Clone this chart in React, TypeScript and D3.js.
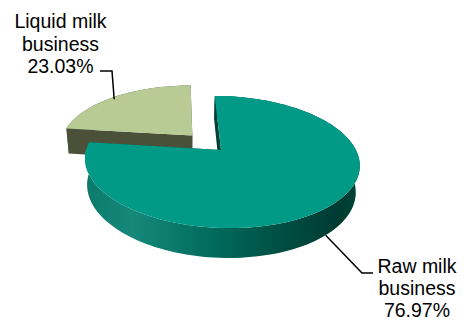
import React from "react";
import * as d3 from "d3";

const categories = ["Raw milk business", "Liquid milk business"];
const values = [76.97, 23.03];
const labelLines = [
  ["Raw milk", "business", "76.97%"],
  ["Liquid milk", "business", "23.03%"],
];
const topColors = ["#009a86", "#b9cb95"];
const sideColors = ["#005a4c", "#4b5139"];
const explode = [0, 0.315];

const W = 466;
const H = 323;
// 3D camera parameters
const F = 653;
const DIST = 4.84;
const SIN_A = 0.4737;
const COS_A = Math.sqrt(1 - SIN_A * SIN_A);
const THICK = 0.2256;
const XCAM = -0.3;
const CX = 221;
const CY = 150;
const OX = CX - (F * -XCAM) / DIST;
const OY = CY;

function proj(X: number, Z: number, Y: number): [number, number] {
  const xc = X - XCAM;
  const yc = Y * COS_A + Z * SIN_A;
  const zc = DIST + Z * COS_A - Y * SIN_A;
  return [OX + (F * xc) / zc, OY - (F * yc) / zc];
}

const closed = d3.line<[number, number]>().curve(d3.curveLinearClosed);

function arcPts(a0: number, a1: number, ox: number, oz: number, Y: number) {
  const n = Math.max(2, Math.ceil((Math.abs(a1 - a0) / (2 * Math.PI)) * 180));
  const pts: [number, number][] = [];
  for (let i = 0; i <= n; i++) {
    const a = a0 + ((a1 - a0) * i) / n;
    pts.push(proj(ox + Math.sin(a), oz + Math.cos(a), Y));
  }
  return pts;
}

export default function App() {
  const pie = d3.pie<number>().sort(null).startAngle(0).endAngle(2 * Math.PI);
  const arcs = pie(values);

  const slices = arcs.map((a, i) => {
    const mid = (a.startAngle + a.endAngle) / 2;
    const ox = explode[i] * Math.sin(mid);
    const oz = explode[i] * Math.cos(mid);
    const topArc = arcPts(a.startAngle, a.endAngle, ox, oz, 0);
    const botArc = arcPts(a.startAngle, a.endAngle, ox, oz, -THICK);
    const cTop = proj(ox, oz, 0);
    const cBot = proj(ox, oz, -THICK);
    const top = closed([cTop, ...topArc]);
    const side = closed([...topArc, ...botArc.slice().reverse()]);
    const r0 = closed([cTop, topArc[0], botArc[0], cBot]);
    const r1 = closed([cTop, topArc[topArc.length - 1], botArc[botArc.length - 1], cBot]);
    return { i, top, side, r0, r1, ox, oz, a };
  });

  // leader anchors
  const rawA = arcs[0];
  const rawAng = rawA.startAngle + (rawA.endAngle - rawA.startAngle) * 0.503;
  const rawP = proj(Math.sin(rawAng), Math.cos(rawAng), -THICK);
  const liq = slices[1];
  const liqAng = liq.a.startAngle + (liq.a.endAngle - liq.a.startAngle) * 0.47;
  const liqP = proj(liq.ox + Math.sin(liqAng) * 0.96, liq.oz + Math.cos(liqAng) * 0.96, 0);

  const fontSize = 19.5;
  const lineH = 22.5;

  return (
    <svg
      width={W}
      height={H}
      style={{ position: "absolute", left: 0, top: 0, background: "#fff" }}
      fontFamily="'Liberation Sans', Arial, sans-serif"
    >
      <defs>
        <linearGradient id="tealSide" gradientUnits="userSpaceOnUse" x1={86} x2={360} y1={0} y2={0}>
          <stop offset="0" stopColor="#0c7a6b" />
          <stop offset="0.17" stopColor="#15897a" />
          <stop offset="0.47" stopColor="#006a5b" />
          <stop offset="0.72" stopColor="#004d42" />
          <stop offset="0.92" stopColor="#003b32" />
          <stop offset="1" stopColor="#004538" />
        </linearGradient>
      </defs>
      {[1, 0].map((k) => {
        const s = slices[k];
        const sideFill = k === 0 ? "url(#tealSide)" : sideColors[k];
        return (
          <g key={categories[k]}>
            <path d={s.side!} fill={sideFill} />
            <path d={s.r0!} fill={k === 0 ? "#004036" : sideColors[k]} />
            <path d={s.r1!} fill={sideColors[k]} />
            <path d={s.top!} fill={topColors[k]} />
          </g>
        );
      })}
      {/* leader lines */}
      <polyline
        points={`${rawP[0]},${rawP[1]} 362,273 373,273`}
        fill="none"
        stroke="#000"
        strokeWidth={1.5}
      />
      <polyline
        points={`${liqP[0]},${liqP[1]} 112,71 100,71`}
        fill="none"
        stroke="#000"
        strokeWidth={1.5}
      />
      <text fontSize={fontSize} textAnchor="middle" fill="#000">
        {labelLines[1].map((t, j) => (
          <tspan key={j} x={60.5} y={28 + j * lineH}>
            {t}
          </tspan>
        ))}
      </text>
      <text fontSize={fontSize} textAnchor="middle" fill="#000">
        {labelLines[0].map((t, j) => (
          <tspan key={j} x={417} y={273 + j * 22}>
            {t}
          </tspan>
        ))}
      </text>
    </svg>
  );
}
